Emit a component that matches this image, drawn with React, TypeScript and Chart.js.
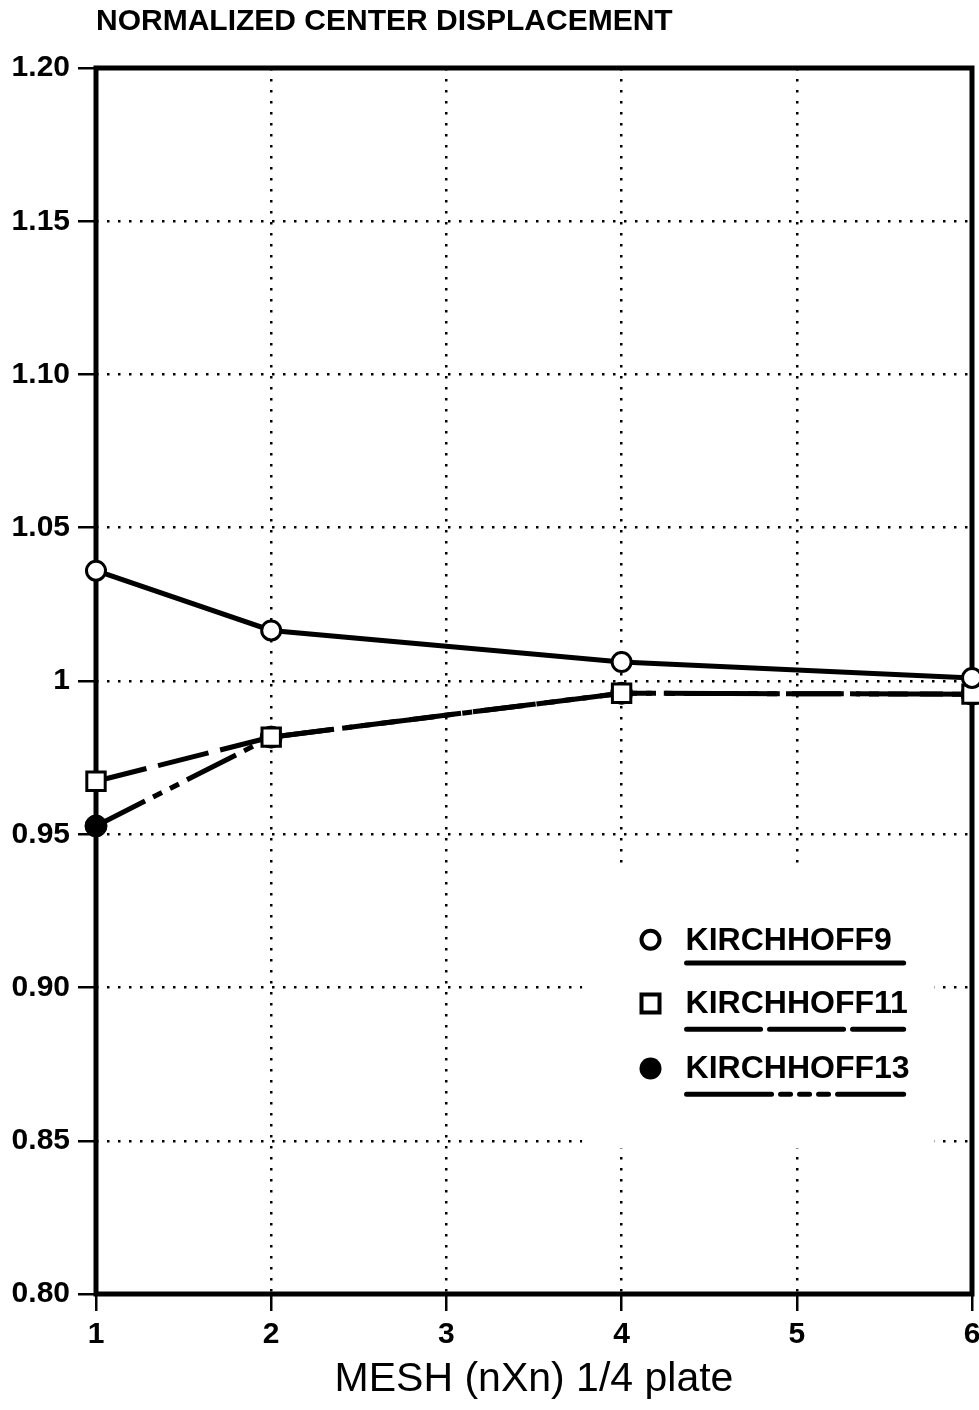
import React, { useEffect, useRef } from 'react';
import { Chart, registerables } from 'chart.js';

Chart.register(...registerables);

// ---- data ----
const meshSizes = [1, 2, 4, 6];
const kirchhoff9 = [1.036, 1.0165, 1.0062, 1.001];
const kirchhoff11 = [0.9673, 0.9817, 0.996, 0.9957];
const kirchhoff13 = [0.9527, 0.9817, 0.996, 0.9957];
const seriesNames = ['KIRCHHOFF9', 'KIRCHHOFF11', 'KIRCHHOFF13'];
const xTickValues = [1, 2, 3, 4, 5, 6];
const xTickLabels = ['1', '2', '3', '4', '5', '6'];
const yTickValues = [0.8, 0.85, 0.9, 0.95, 1.0, 1.05, 1.1, 1.15, 1.2];
const yTickLabels = ['0.80', '0.85', '0.90', '0.95', '1', '1.05', '1.10', '1.15', '1.20'];
const titleText = 'NORMALIZED CENTER DISPLACEMENT';
const xAxisTitle = 'MESH (nXn) 1/4 plate';

const FONT = "'Liberation Sans', Arial, sans-serif";

const lineDashes: number[][] = [[], [52, 12], [55, 9, 10, 9, 10, 9]];
const legendDashes: number[][] = [[], [74, 9], [85, 9, 10, 9, 10, 9, 10, 9]];
const gridDash = [2.5, 8.5];

const framePlugin = {
  id: 'frameAndLegend',
  beforeDatasetsDraw(chart: any) {
    const { ctx, chartArea } = chart;
    const { left, top, right, bottom } = chartArea;
    const w = right - left;
    const h = bottom - top;
    ctx.save();
    // blank region behind legend (grid interrupted)
    ctx.fillStyle = '#ffffff';
    ctx.fillRect(left + w * 0.555, top + h * 0.654, w * 0.402, h * 0.227);
    // frame
    ctx.strokeStyle = '#000';
    ctx.lineWidth = 5;
    ctx.lineJoin = 'miter';
    ctx.setLineDash([]);
    ctx.strokeRect(left, top, w, h);

    // legend
    const mx = left + w * 0.633;
    const tx = left + w * 0.673;
    const lineEnd = left + w * 0.922;
    const rowY = [top + h * 0.711, top + h * 0.763, top + h * 0.816];
    const lineY = [top + h * 0.730, top + h * 0.784, top + h * 0.837];
    chart.data.datasets.forEach((ds: any, i: number) => {
      const y = rowY[i];
      // marker
      ctx.setLineDash([]);
      ctx.lineWidth = 4;
      ctx.strokeStyle = '#000';
      ctx.beginPath();
      if (ds.pointStyle === 'rect') {
        ctx.rect(mx - 9, y - 9, 18, 18);
        ctx.stroke();
      } else if (ds.pointBackgroundColor === '#000') {
        ctx.arc(mx, y, 11, 0, Math.PI * 2);
        ctx.fillStyle = '#000';
        ctx.fill();
      } else {
        ctx.arc(mx, y, 9, 0, Math.PI * 2);
        ctx.stroke();
      }
      // label
      ctx.fillStyle = '#000';
      ctx.font = `bold 32px ${FONT}`;
      ctx.textAlign = 'left';
      ctx.textBaseline = 'middle';
      ctx.fillText(ds.label, tx, y + 1);
      // line sample
      ctx.lineWidth = 5;
      ctx.lineCap = 'round';
      ctx.setLineDash(legendDashes[i]);
      ctx.beginPath();
      ctx.moveTo(tx + 1, lineY[i]);
      ctx.lineTo(lineEnd, lineY[i]);
      ctx.stroke();
    });
    ctx.restore();
  },
};

export default function App() {
  const canvasRef = useRef<HTMLCanvasElement | null>(null);

  useEffect(() => {
    if (!canvasRef.current) return;
    const series = [kirchhoff9, kirchhoff11, kirchhoff13];
    const chart = new Chart(canvasRef.current, {
      type: 'line',
      data: {
        datasets: series.map((vals, i) => ({
          label: seriesNames[i],
          data: meshSizes.map((x, j) => ({ x, y: vals[j] })),
          borderColor: '#000',
          borderWidth: 5,
          borderDash: lineDashes[i],
          borderCapStyle: 'butt',
          pointStyle: i === 1 ? 'rect' : 'circle',
          pointRadius: i === 0 ? 9.5 : i === 1 ? 13 : 11,
          pointBorderWidth: i === 2 ? 1 : 3,
          pointBorderColor: '#000',
          pointBackgroundColor: i === 2 ? '#000' : '#fff',
          tension: 0,
          clip: false,
        })) as any,
      },
      options: {
        responsive: false,
        animation: false,
        layout: { padding: { left: 0, right: 0, top: 0, bottom: 0 } },
        plugins: {
          legend: { display: false },
          tooltip: { enabled: false },
          title: {
            display: true,
            text: titleText,
            align: 'start',
            fullSize: false,
            color: '#000',
            font: { family: FONT, size: 30, weight: 'bold' },
            padding: { top: 4, bottom: 28 },
          },
        },
        scales: {
          x: {
            type: 'linear',
            min: 1,
            max: 6,
            afterFit: (scale: any) => {
              scale.height = 116;
            },
            afterBuildTicks: (scale: any) => {
              scale.ticks = xTickValues.map((v) => ({ value: v }));
            },
            ticks: {
              color: '#000',
              font: { family: FONT, size: 30, weight: 'bold' },
              padding: 6,
              maxRotation: 0,
              autoSkip: false,
              callback: (v: any) => xTickLabels[xTickValues.indexOf(Number(v))] ?? '',
            },
            grid: {
              color: '#000',
              lineWidth: 2.5,
              drawTicks: true,
              tickLength: 17,
              tickColor: '#000',
              tickWidth: 2.5,
              tickBorderDash: [],
            },
            border: { display: false, color: '#000', width: 5, dash: gridDash },
            title: {
              display: true,
              text: xAxisTitle,
              color: '#000',
              font: { family: FONT, size: 41 },
              padding: { top: 0, bottom: 6 },
            },
          },
          y: {
            type: 'linear',
            min: 0.8,
            max: 1.2,
            afterFit: (scale: any) => {
              scale.width = 96;
            },
            afterBuildTicks: (scale: any) => {
              scale.ticks = yTickValues.map((v) => ({ value: v }));
            },
            ticks: {
              color: '#000',
              font: { family: FONT, size: 30, weight: 'bold' },
              padding: 8,
              autoSkip: false,
              callback: (v: any) => {
                const idx = yTickValues.findIndex((t) => Math.abs(t - Number(v)) < 1e-6);
                return idx >= 0 ? yTickLabels[idx] : '';
              },
            },
            grid: {
              color: '#000',
              lineWidth: 2.5,
              drawTicks: true,
              tickLength: 18,
              tickColor: '#000',
              tickWidth: 2.5,
              tickBorderDash: [],
            },
            border: { display: false, color: '#000', width: 5, dash: gridDash },
          },
        },
      },
      plugins: [framePlugin],
    });
    return () => chart.destroy();
  }, []);

  return (
    <div
      style={{
        position: 'absolute',
        left: 0,
        top: 0,
        width: 979,
        height: 1410,
        overflow: 'hidden',
        background: '#fff',
      }}
    >
      <canvas ref={canvasRef} width={988} height={1410} style={{ display: 'block' }} />
    </div>
  );
}
